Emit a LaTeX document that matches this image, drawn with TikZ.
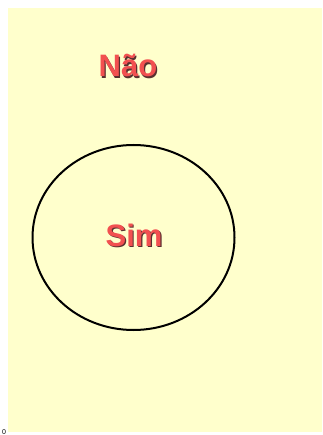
\documentclass[tikz,border=0pt]{standalone}
\usepackage{fontspec}
\setmainfont{Liberation Sans}
\usepackage{xcolor}
\usetikzlibrary{shapes.geometric, positioning}
\definecolor{paper}{HTML}{FFFFCC}
\definecolor{wordred}{HTML}{F25050}
\definecolor{wordshade}{HTML}{5A3030}

\begin{document}
\begin{tikzpicture}[
  x=1pt, y=-1pt,
  word/.style={font=\fontsize{31}{31}\selectfont\bfseries, text=wordred,
    inner sep=0pt, anchor=base},
  wordshadow/.style={word, text=wordshade},
  region/.style={ellipse, draw=black, line width=2pt,
    minimum width=202pt, minimum height=185pt, inner sep=0pt}
]
\useasboundingbox (0,0) rectangle (322,435);
\fill[paper] (8,8) rectangle (322,432);
\node[region] (set) at (133.5,237.5) {};
\node[wordshadow] (naoshadow) at (129.2,78.2) {Não};
\node[word] (nao) at (128,77) {Não};
\node[wordshadow] (simshadow) at (135.2,247.2) {Sim};
\node[word] (sim) at (134,246) {Sim};
\node[font=\fontsize{7}{7}\selectfont, inner sep=0pt, anchor=south] (zero) at (4,434.5) {0};
\end{tikzpicture}
\end{document}
